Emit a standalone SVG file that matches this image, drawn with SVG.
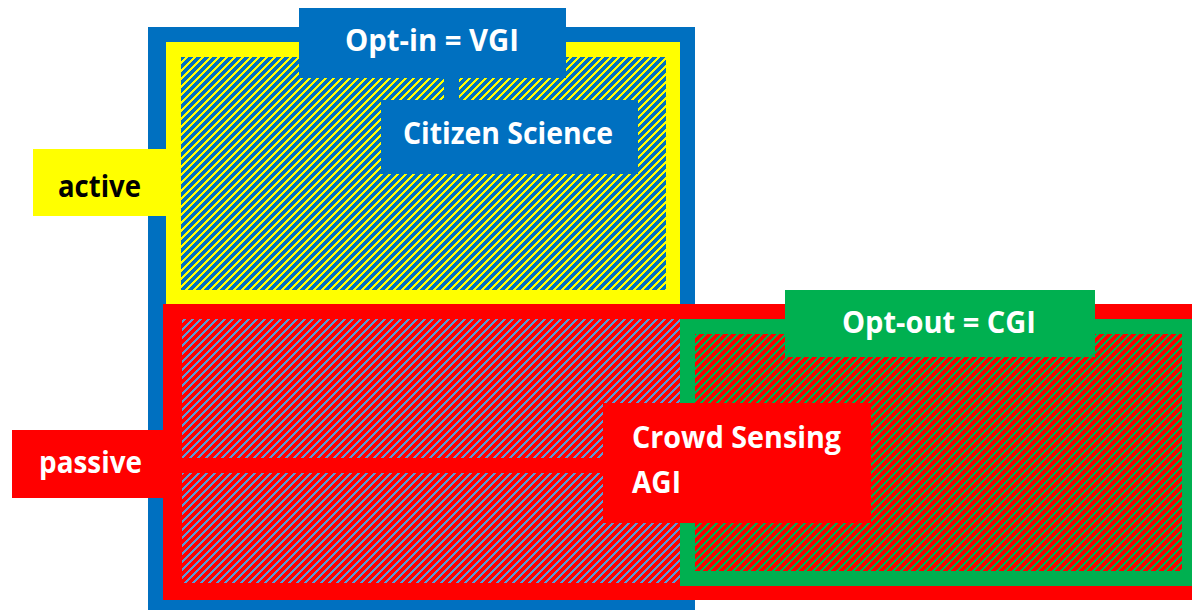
<svg xmlns="http://www.w3.org/2000/svg" width="1192" height="610" viewBox="0 0 1192 610">
  <defs>
    <pattern id="hatchYB" patternUnits="userSpaceOnUse" width="8" height="8">
      <rect width="8" height="8" fill="#FFFF00"/>
      <path class="st" d="M-4,4 L4,-4 M0,8 L8,0 M4,12 L12,4" stroke="#0070C0" stroke-width="3.2"/>
    </pattern>
    <pattern id="hatchRB" patternUnits="userSpaceOnUse" width="8" height="8">
      <rect width="8" height="8" fill="#FF0000"/>
      <path class="st" d="M-4,4 L4,-4 M0,8 L8,0 M4,12 L12,4" stroke="#5B9BD5" stroke-width="1.6"/>
    </pattern>
    <pattern id="hatchRG" patternUnits="userSpaceOnUse" width="8" height="8">
      <rect width="8" height="8" fill="#FF0000"/>
      <path class="st" d="M-4,4 L4,-4 M0,8 L8,0 M4,12 L12,4" stroke="#00B050" stroke-width="2.0"/>
    </pattern>
  </defs>
  <style>
    .lbl { font-family: "Open Sans", "Liberation Sans", sans-serif; font-weight: bold; font-size: 30px; }
    .w { fill: #FFFFFF; }
    .k { fill: #000000; }
    .blue { fill: #0070C0; }
    .yellow { fill: #FFFF00; }
    .red { fill: #FF0000; }
    .green { fill: #00B050; }
    .st { fill: none; shape-rendering: crispEdges; }
  </style>
  <rect width="1192" height="610" fill="#FFFFFF"/>

  <g id="opt-in-area">
    <rect class="blue" x="148" y="27" width="547" height="583"/>
  </g>
  <g id="active-area">
    <rect class="yellow" x="166" y="42" width="514" height="262"/>
    <rect fill="url(#hatchYB)" x="181" y="57" width="485" height="233"/>
  </g>
  <g id="passive-area">
    <rect class="red" x="163" y="304" width="1029" height="296"/>
    <rect fill="url(#hatchRB)" x="182" y="319" width="498" height="139"/>
    <rect fill="url(#hatchRB)" x="182" y="473" width="498" height="110"/>
  </g>
  <g id="opt-out-area">
    <rect class="green" x="680" y="319" width="512" height="267"/>
    <rect fill="url(#hatchRG)" x="695" y="334" width="487" height="237"/>
  </g>

  <g id="connectors">
    <rect class="blue" x="444" y="76" width="15" height="26"/>
  </g>

  <g id="label-opt-in">
    <rect class="blue" x="299" y="8" width="267" height="70"/>
    <text class="lbl w" x="345" y="51" textLength="174" lengthAdjust="spacingAndGlyphs">Opt-in = VGI</text>
  </g>
  <g id="label-citizen-science">
    <rect class="blue" x="381" y="100" width="257" height="74"/>
    <text class="lbl w" x="403" y="144" textLength="210" lengthAdjust="spacingAndGlyphs">Citizen Science</text>
  </g>
  <g id="label-active">
    <rect class="yellow" x="33" y="149" width="133" height="67"/>
    <text class="lbl k" x="58" y="197" textLength="83" lengthAdjust="spacingAndGlyphs">active</text>
  </g>
  <g id="label-passive">
    <rect class="red" x="12" y="430" width="151" height="68"/>
    <text class="lbl w" x="39" y="473" textLength="103" lengthAdjust="spacingAndGlyphs">passive</text>
  </g>
  <g id="label-opt-out">
    <rect class="green" x="785" y="290" width="310" height="67"/>
    <text class="lbl w" x="842" y="333" textLength="194" lengthAdjust="spacingAndGlyphs">Opt-out = CGI</text>
  </g>
  <g id="label-crowd-sensing">
    <rect class="red" x="603" y="403" width="268" height="120"/>
    <text class="lbl w" x="632" y="448" textLength="209" lengthAdjust="spacingAndGlyphs">Crowd Sensing</text>
    <text class="lbl w" x="632" y="493" textLength="49" lengthAdjust="spacingAndGlyphs">AGI</text>
  </g>
</svg>
